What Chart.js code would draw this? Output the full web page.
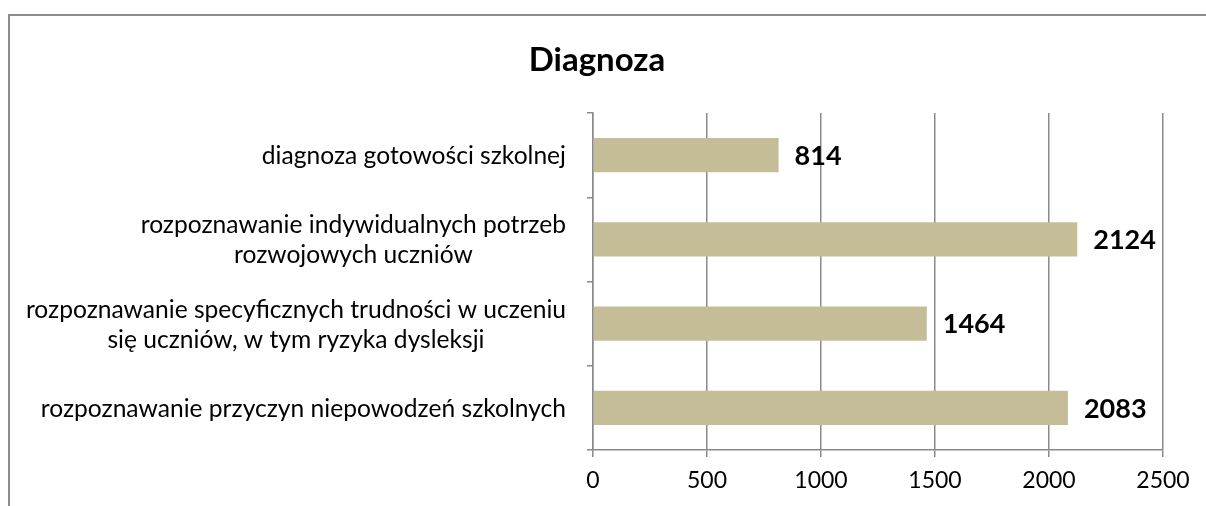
<!DOCTYPE html>
<html>
<head>
<meta charset="utf-8">
<script src="https://cdn.jsdelivr.net/npm/chart.js@4/dist/chart.umd.min.js"></script>
<style>
  html, body { margin: 0; padding: 0; background: #ffffff; }
  #wrap { position: relative; width: 1206px; height: 506px; }
</style>
</head>
<body>
<div id="wrap"><canvas id="c" width="1206" height="506"></canvas></div>
<script>
// ---- data ----
const chartTitle = "Diagnoza";
const categories = [
  ["diagnoza gotowości szkolnej"],
  ["rozpoznawanie indywidualnych potrzeb", "rozwojowych uczniów"],
  ["rozpoznawanie specyficznych trudności w uczeniu", "się uczniów, w tym ryzyka dysleksji"],
  ["rozpoznawanie przyczyn niepowodzeń szkolnych"]
];
const values = [814, 2124, 1464, 2083];
const xTicks = [0, 500, 1000, 1500, 2000, 2500];

// ---- styles ----
const FONT = "Lato, 'Open Sans', sans-serif";
const GRID = "#8a8a8a";
const BAR = "#C4BD97";

const frame = {
  id: "frame",
  beforeDraw(chart) {
    const ctx = chart.ctx;
    ctx.save();
    ctx.fillStyle = "#ffffff";
    ctx.fillRect(0, 0, chart.width, chart.height);
    ctx.strokeStyle = "#8c8c8c";
    ctx.lineWidth = 2;
    ctx.beginPath();
    ctx.moveTo(9, chart.height);
    ctx.lineTo(9, 15);
    ctx.lineTo(chart.width, 15);
    ctx.stroke();
    ctx.restore();
  }
};

const catLabels = {
  id: "catLabels",
  afterDraw(chart) {
    const ctx = chart.ctx;
    const yScale = chart.scales.y;
    const right = chart.chartArea.left - 27;
    const size = 24.6, lh = 30;
    ctx.save();
    ctx.font = size + "px " + FONT;
    ctx.fillStyle = "#000000";
    ctx.textBaseline = "middle";
    ctx.textAlign = "center";
    categories.forEach((lines, i) => {
      const yc = yScale.getPixelForValue(i);
      const w = Math.max(...lines.map(l => ctx.measureText(l).width));
      const cx = right - w / 2;
      const y0 = yc - (lines.length - 1) * lh / 2 + 1;
      lines.forEach((l, j) => ctx.fillText(l, cx, y0 + j * lh));
    });
    ctx.restore();
  }
};

const valueLabels = {
  id: "valueLabels",
  afterDatasetsDraw(chart) {
    const ctx = chart.ctx;
    const meta = chart.getDatasetMeta(0);
    ctx.save();
    ctx.font = "bold 27px " + FONT;
    ctx.fillStyle = "#000000";
    ctx.textBaseline = "middle";
    ctx.textAlign = "left";
    meta.data.forEach((bar, i) => {
      ctx.fillText(String(values[i]), bar.x + 16, bar.y + 1);
    });
    ctx.restore();
  }
};

new Chart(document.getElementById("c"), {
  type: "bar",
  data: {
    labels: categories,
    datasets: [{
      data: values,
      backgroundColor: BAR,
      borderWidth: 0,
      categoryPercentage: 1,
      barPercentage: 0.405
    }]
  },
  options: {
    indexAxis: "y",
    responsive: false,
    animation: false,
    devicePixelRatio: 1,
    layout: { padding: { left: 31, right: 43, top: 0, bottom: 0 } },
    plugins: {
      legend: { display: false },
      tooltip: { enabled: false },
      title: {
        display: true,
        text: chartTitle,
        color: "#000000",
        font: { family: FONT, size: 33, weight: "bold", lineHeight: 1.2 },
        padding: { top: 40.2, bottom: 33.2 }
      }
    },
    scales: {
      x: {
        type: "linear",
        min: xTicks[0],
        max: xTicks[xTicks.length - 1],
        afterBuildTicks(scale) { scale.ticks = xTicks.map(v => ({ value: v })); },
        afterFit(scale) { scale.height = 56; },
        ticks: {
          color: "#000000",
          font: { family: FONT, size: 23 },
          padding: 10,
          maxRotation: 0,
          callback: (v) => String(v)
        },
        grid: { color: GRID, lineWidth: 1.5, tickLength: 7, drawTicks: true },
        border: { display: true, color: GRID, width: 1.5 }
      },
      y: {
        type: "category",
        afterFit(scale) { scale.width = 593 - 31; },
        ticks: { display: false },
        grid: { drawOnChartArea: false, drawTicks: true, tickLength: 6, color: GRID, lineWidth: 1.5, offset: true },
        border: { display: true, color: GRID, width: 1.5 }
      }
    }
  },
  plugins: [frame, catLabels, valueLabels]
});
</script>
</body>
</html>
